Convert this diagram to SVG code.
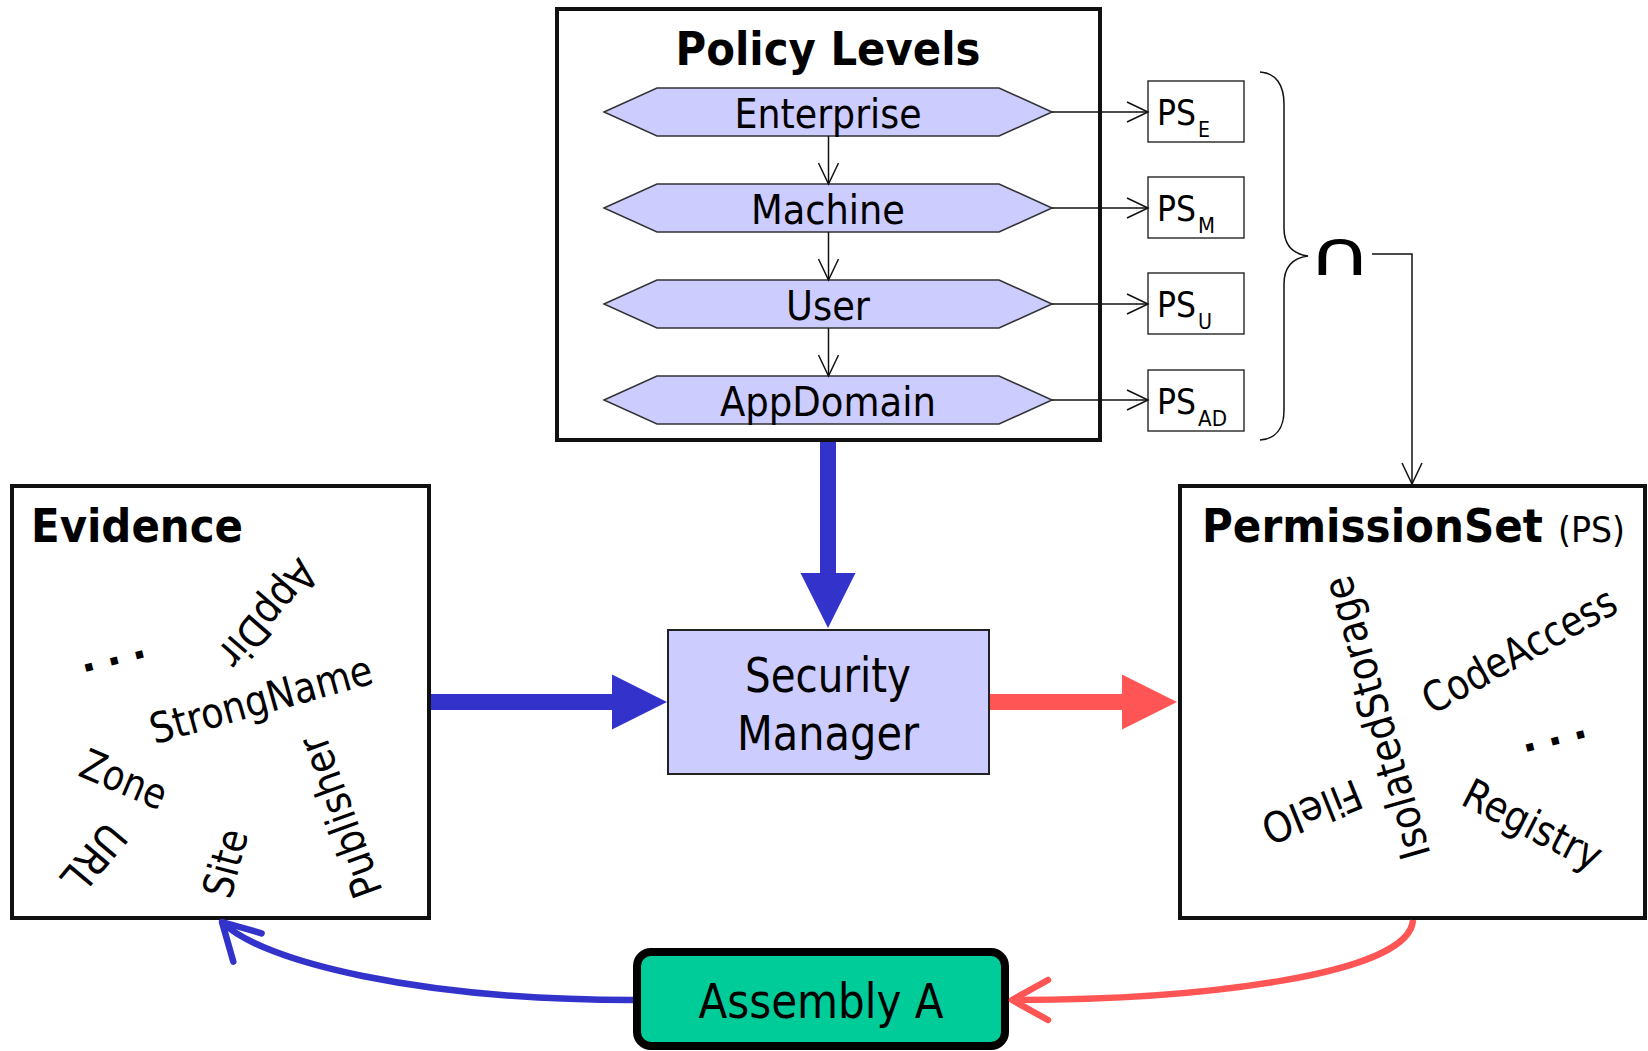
<svg xmlns="http://www.w3.org/2000/svg" xmlns:xlink="http://www.w3.org/1999/xlink" width="1648" height="1051" viewBox="0 0 1648 1051">
  <style>
    .t { font-family: "DejaVu Sans", "Liberation Sans", sans-serif; fill: #000; }
    .b { font-weight: bold; }
    .frame { fill: #fff; stroke: #111; stroke-width: 4; }
    .hex { fill: #ccccff; stroke: #333; stroke-width: 1.5; }
    .ps { fill: #fff; stroke: #333; stroke-width: 1.5; }
    .thin { fill: none; stroke: #111; stroke-width: 1.5; }
    .rot { font-size: 42px; text-anchor: middle; }
  </style>
  <defs>
    <polygon id="hexShape" points="-224,0 -171,-24 171,-24 224,0 171,24 -171,24"/>
    <marker id="vThin" markerUnits="userSpaceOnUse" viewBox="-24 -12 26 24" markerWidth="26" markerHeight="24" refX="0" refY="0" orient="auto" overflow="visible">
      <path d="M-21,-10 L0,0 L-21,10" fill="none" stroke="#111" stroke-width="1.5"/>
    </marker>
    <marker id="headBlue" markerUnits="userSpaceOnUse" viewBox="0 -28 56 56" markerWidth="56" markerHeight="56" refX="1" refY="0" orient="auto" overflow="visible">
      <path d="M0,-27.5 L55,0 L0,27.5 Z" fill="#3333cc"/>
    </marker>
    <marker id="headRed" markerUnits="userSpaceOnUse" viewBox="0 -28 56 56" markerWidth="56" markerHeight="56" refX="1" refY="0" orient="auto" overflow="visible">
      <path d="M0,-27.5 L55,0 L0,27.5 Z" fill="#ff5555"/>
    </marker>
    <marker id="vBlue" markerUnits="userSpaceOnUse" viewBox="-40 -24 44 48" markerWidth="44" markerHeight="48" refX="0" refY="0" orient="auto" overflow="visible">
      <path d="M-36,-20 L0,0 L-36,20" fill="none" stroke="#3333cc" stroke-width="6.5" stroke-linecap="round" stroke-linejoin="round"/>
    </marker>
    <marker id="vRed" markerUnits="userSpaceOnUse" viewBox="-40 -24 44 48" markerWidth="44" markerHeight="48" refX="0" refY="0" orient="auto" overflow="visible">
      <path d="M-36,-20 L0,0 L-36,20" fill="none" stroke="#ff5555" stroke-width="6.5" stroke-linecap="round" stroke-linejoin="round"/>
    </marker>
  </defs>

  <rect width="1648" height="1051" fill="#fff"/>

  <!-- Policy levels container -->
  <g id="policy-levels">
    <rect class="frame" x="557" y="9" width="543" height="431"/>
    <text class="t b" x="828" y="65" font-size="46" text-anchor="middle" textLength="305" lengthAdjust="spacingAndGlyphs">Policy Levels</text>
  </g>

  <g id="level-enterprise">
    <use xlink:href="#hexShape" class="hex" x="828" y="112"/>
    <text class="t" x="828" y="128" font-size="40" text-anchor="middle" textLength="187" lengthAdjust="spacingAndGlyphs">Enterprise</text>
  </g>
  <g id="level-machine">
    <use xlink:href="#hexShape" class="hex" x="828" y="208"/>
    <text class="t" x="828" y="224" font-size="40" text-anchor="middle" textLength="154" lengthAdjust="spacingAndGlyphs">Machine</text>
  </g>
  <g id="level-user">
    <use xlink:href="#hexShape" class="hex" x="828" y="304"/>
    <text class="t" x="828" y="320" font-size="40" text-anchor="middle" textLength="84" lengthAdjust="spacingAndGlyphs">User</text>
  </g>
  <g id="level-appdomain">
    <use xlink:href="#hexShape" class="hex" x="828" y="400"/>
    <text class="t" x="828" y="416" font-size="40" text-anchor="middle" textLength="216" lengthAdjust="spacingAndGlyphs">AppDomain</text>
  </g>

  <!-- Per-level permission sets -->
  <g id="ps-e">
    <rect class="ps" x="1148" y="81" width="96" height="61"/>
    <text class="t" x="1157" y="125" font-size="36" textLength="39" lengthAdjust="spacingAndGlyphs">PS</text>
    <text class="t" x="1198" y="137" font-size="21" textLength="12" lengthAdjust="spacingAndGlyphs">E</text>
  </g>
  <g id="ps-m">
    <rect class="ps" x="1148" y="177" width="96" height="61"/>
    <text class="t" x="1157" y="221" font-size="36" textLength="39" lengthAdjust="spacingAndGlyphs">PS</text>
    <text class="t" x="1198" y="233" font-size="21" textLength="17" lengthAdjust="spacingAndGlyphs">M</text>
  </g>
  <g id="ps-u">
    <rect class="ps" x="1148" y="273" width="96" height="61"/>
    <text class="t" x="1157" y="317" font-size="36" textLength="39" lengthAdjust="spacingAndGlyphs">PS</text>
    <text class="t" x="1198" y="329" font-size="21" textLength="14" lengthAdjust="spacingAndGlyphs">U</text>
  </g>
  <g id="ps-ad">
    <rect class="ps" x="1148" y="370" width="96" height="61"/>
    <text class="t" x="1157" y="414" font-size="36" textLength="39" lengthAdjust="spacingAndGlyphs">PS</text>
    <text class="t" x="1198" y="426" font-size="21" textLength="29" lengthAdjust="spacingAndGlyphs">AD</text>
  </g>

  <!-- Intersection of the level sets -->
  <g id="intersection">
    <path class="thin" stroke-width="2" d="M1260,72 C1276,73 1284,85 1284,104 L1284,228 C1284,246 1293,254 1308,256 C1293,258 1284,266 1284,284 L1284,410 C1284,428 1276,439 1260,440"/>
    <g transform="translate(1340,275) scale(1.45,1)"><text class="t" x="0" y="0" font-size="62" text-anchor="middle">∩</text></g>
  </g>

  <!-- Evidence -->
  <g id="evidence">
    <rect class="frame" x="12" y="486" width="417" height="432"/>
    <text class="t b" x="31" y="542" font-size="46" textLength="212" lengthAdjust="spacingAndGlyphs">Evidence</text>
    <g transform="translate(86,672) rotate(-14)"><text class="t b" x="-3.6" y="0" font-size="40" letter-spacing="10.8">...</text></g>
    <g transform="translate(267,613) rotate(131)"><text class="t rot" y="13" textLength="127" lengthAdjust="spacingAndGlyphs">AppDir</text></g>
    <g transform="translate(262,703) rotate(-15.5)"><text class="t rot" y="11" textLength="229" lengthAdjust="spacingAndGlyphs">StrongName</text></g>
    <g transform="translate(124,779) rotate(23)"><text class="t rot" y="15" textLength="90" lengthAdjust="spacingAndGlyphs">Zone</text></g>
    <g transform="translate(94,858) rotate(130)"><text class="t rot" y="15" textLength="75" lengthAdjust="spacingAndGlyphs">URL</text></g>
    <g transform="translate(225,863) rotate(-75)"><text class="t rot" y="15" textLength="69" lengthAdjust="spacingAndGlyphs">Site</text></g>
    <g transform="translate(340,817) rotate(-110)"><text class="t rot" y="15" textLength="169" lengthAdjust="spacingAndGlyphs">Publisher</text></g>
  </g>

  <!-- Security manager -->
  <g id="security-manager">
    <rect x="668" y="630" width="321" height="144" fill="#ccccff" stroke="#222" stroke-width="2"/>
    <text class="t" x="828" y="692" font-size="48" text-anchor="middle" textLength="166" lengthAdjust="spacingAndGlyphs">Security</text>
    <text class="t" x="828" y="750" font-size="48" text-anchor="middle" textLength="182" lengthAdjust="spacingAndGlyphs">Manager</text>
  </g>

  <!-- Permission set -->
  <g id="permission-set">
    <rect class="frame" x="1180" y="486" width="465" height="432"/>
    <text class="t b" x="1202" y="542" font-size="46" textLength="341" lengthAdjust="spacingAndGlyphs">PermissionSet</text>
    <text class="t" x="1558" y="542" font-size="36" textLength="67" lengthAdjust="spacingAndGlyphs">(PS)</text>
    <g transform="translate(1380,717) rotate(-106)"><text class="t rot" y="11" textLength="292" lengthAdjust="spacingAndGlyphs">IsolatedStorage</text></g>
    <g transform="translate(1519,650) rotate(-29)"><text class="t rot" y="15" textLength="215" lengthAdjust="spacingAndGlyphs">CodeAccess</text></g>
    <g transform="translate(1527,752) rotate(-14)"><text class="t b" x="-3.6" y="0" font-size="40" letter-spacing="10.8">...</text></g>
    <g transform="translate(1531,828) rotate(27)"><text class="t rot" y="11" textLength="150" lengthAdjust="spacingAndGlyphs">Registry</text></g>
    <g transform="translate(1312,812) rotate(158)"><text class="t rot" y="15" textLength="104" lengthAdjust="spacingAndGlyphs">FileIO</text></g>
  </g>

  <!-- Assembly -->
  <g id="assembly-a">
    <rect x="637" y="952" width="368" height="94" rx="14" ry="14" fill="#00cc99" stroke="#000" stroke-width="8"/>
    <text class="t" x="821" y="1018" font-size="48" text-anchor="middle" textLength="245" lengthAdjust="spacingAndGlyphs">Assembly A</text>
  </g>

  <!-- Connectors -->
  <g id="connectors">
    <line class="thin" x1="828.5" y1="136" x2="828.5" y2="184" marker-end="url(#vThin)"/>
    <line class="thin" x1="828.5" y1="232" x2="828.5" y2="280" marker-end="url(#vThin)"/>
    <line class="thin" x1="828.5" y1="328" x2="828.5" y2="376" marker-end="url(#vThin)"/>
    <line class="thin" x1="1052" y1="112" x2="1148" y2="112" marker-end="url(#vThin)"/>
    <line class="thin" x1="1052" y1="208" x2="1148" y2="208" marker-end="url(#vThin)"/>
    <line class="thin" x1="1052" y1="304" x2="1148" y2="304" marker-end="url(#vThin)"/>
    <line class="thin" x1="1052" y1="400" x2="1148" y2="400" marker-end="url(#vThin)"/>
    <polyline class="thin" points="1372,254 1412,254 1412,484" marker-end="url(#vThin)"/>

    <line x1="828" y1="442" x2="828" y2="574" stroke="#3333cc" stroke-width="16" marker-end="url(#headBlue)"/>
    <line x1="431" y1="702" x2="613" y2="702" stroke="#3333cc" stroke-width="16" marker-end="url(#headBlue)"/>
    <line x1="990" y1="702" x2="1123" y2="702" stroke="#ff5555" stroke-width="16" marker-end="url(#headRed)"/>

    <path d="M633,1000 C420,1000 262,962 222,922" fill="none" stroke="#3333cc" stroke-width="6.5" marker-end="url(#vBlue)"/>
    <path d="M1413,920 C1410,975 1200,1000 1012,1000" fill="none" stroke="#ff5555" stroke-width="6.5" marker-end="url(#vRed)"/>
  </g>
</svg>
